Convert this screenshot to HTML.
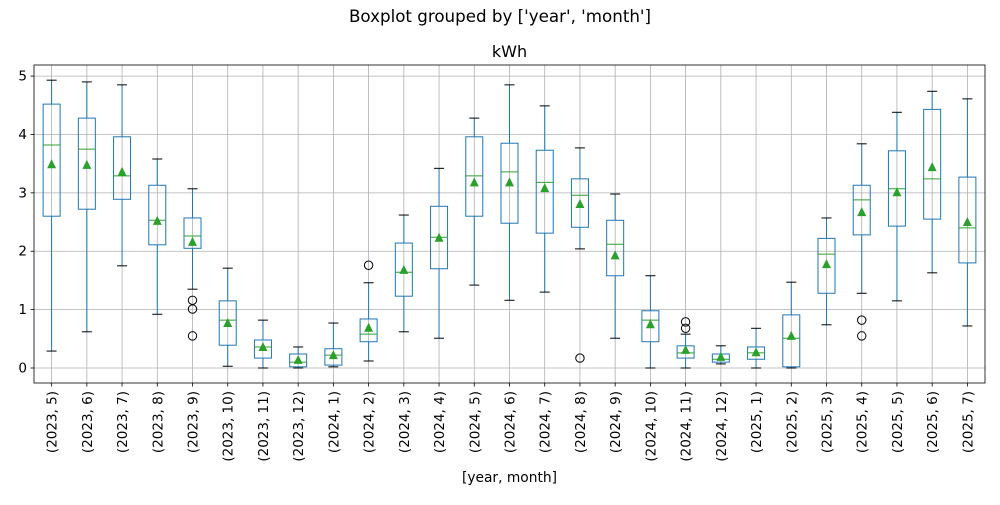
<!DOCTYPE html>
<html><head><meta charset="utf-8"><style>
body{margin:0;background:#fff;}
svg{font-family:"DejaVu Sans","Liberation Sans",sans-serif;}
</style></head><body>
<svg id="chart" width="1000" height="500" viewBox="0 0 1000 500" xmlns="http://www.w3.org/2000/svg">
<rect width="1000" height="500" fill="#fff"/>
<text x="500" y="22" font-size="16.7" text-anchor="middle">Boxplot grouped by ['year', 'month']</text>
<text x="509.5" y="57" font-size="16" text-anchor="middle">kWh</text>
<text x="509.5" y="482" font-size="13.8" text-anchor="middle">[year, month]</text>
<g id="grid"></g><g id="marks"></g><g id="axes"></g>
</svg>
<script>
const categories=["(2023, 5)","(2023, 6)","(2023, 7)","(2023, 8)","(2023, 9)","(2023, 10)","(2023, 11)","(2023, 12)","(2024, 1)","(2024, 2)","(2024, 3)","(2024, 4)","(2024, 5)","(2024, 6)","(2024, 7)","(2024, 8)","(2024, 9)","(2024, 10)","(2024, 11)","(2024, 12)","(2025, 1)","(2025, 2)","(2025, 3)","(2025, 4)","(2025, 5)","(2025, 6)","(2025, 7)"];
const whiskerLow=[0.29,0.62,1.75,0.92,1.35,0.03,0,0,0.02,0.12,0.62,0.51,1.42,1.16,1.30,2.04,0.51,0,0,0.07,0,0,0.74,1.28,1.15,1.63,0.72];
const q1=[2.60,2.72,2.89,2.11,2.05,0.39,0.17,0.02,0.05,0.45,1.23,1.70,2.60,2.48,2.31,2.41,1.58,0.45,0.17,0.10,0.15,0.02,1.28,2.28,2.43,2.55,1.80];
const medians=[3.82,3.75,3.29,2.53,2.26,0.82,0.36,0.10,0.22,0.58,1.64,2.24,3.29,3.36,3.18,2.96,2.12,0.82,0.26,0.15,0.26,0.51,1.95,2.88,3.07,3.24,2.40];
const q3=[4.52,4.28,3.96,3.13,2.57,1.15,0.48,0.24,0.33,0.84,2.14,2.77,3.96,3.85,3.73,3.24,2.53,0.98,0.38,0.24,0.36,0.91,2.22,3.13,3.72,4.43,3.27];
const whiskerHigh=[4.93,4.90,4.85,3.58,3.07,1.71,0.82,0.36,0.77,1.46,2.62,3.42,4.28,4.85,4.49,3.77,2.98,1.58,0.58,0.38,0.68,1.47,2.57,3.84,4.38,4.74,4.61];
const means=[3.49,3.48,3.36,2.52,2.16,0.77,0.36,0.14,0.22,0.69,1.68,2.23,3.18,3.18,3.08,2.81,1.93,0.75,0.31,0.19,0.27,0.55,1.78,2.67,3.01,3.44,2.50];
const outliers=[[],[],[],[],[1.16,1.01,0.55],[],[],[],[],[1.76],[],[],[],[],[],[0.17],[],[],[0.79,0.68],[],[],[],[],[0.82,0.55],[],[],[]];
const yTicks=[0,1,2,3,4,5];

const L=34,R=985,T=65,B=383,ymin=-0.257,ymax=5.19;
const n=categories.length;
const xs=i=>L+(i+1-0.5)/n*(R-L);
const ys=v=>B-(v-ymin)/(ymax-ymin)*(B-T);
const NS="http://www.w3.org/2000/svg";
function mk(tag,attrs,parent){const e=document.createElementNS(NS,tag);for(const k in attrs)e.setAttribute(k,attrs[k]);parent.appendChild(e);return e;}
const grid=document.getElementById('grid'),marks=document.getElementById('marks'),axes=document.getElementById('axes');
yTicks.forEach(t=>{
  const g=mk('line',{x1:L,x2:R,y1:ys(t),y2:ys(t),stroke:'#b0b0b0','stroke-width':0.8},grid);
  
  
  mk('line',{x1:L-3.5,x2:L,y1:ys(t),y2:ys(t),stroke:'#000','stroke-width':0.8},axes);
  const tx=mk('text',{x:L-7,y:ys(t)+4.5,'font-size':13.5,'text-anchor':'end'},axes);
  tx.textContent=t;
  
  
});
categories.forEach((c,i)=>{
  const x=xs(i),hw=8.5,cw=5;
  const g=mk('line',{x1:x,x2:x,y1:T,y2:B,stroke:'#b0b0b0','stroke-width':0.8},grid);
  
  
  mk('line',{x1:x,x2:x,y1:B,y2:B+3.5,stroke:'#000','stroke-width':0.8},axes);
  const tx=mk('text',{x:0,y:0,'font-size':13.5,'text-anchor':'end',transform:`translate(${x+5},${B+8}) rotate(-90)`},axes);
  tx.textContent=c;
  
  
  const grp=mk('g',{},marks);
  
  
  const s={stroke:'#1f77b4','stroke-width':1,fill:'none'};
  mk('line',Object.assign({x1:x,x2:x,y1:ys(q1[i]),y2:ys(whiskerLow[i])},s),grp);
  mk('line',Object.assign({x1:x,x2:x,y1:ys(q3[i]),y2:ys(whiskerHigh[i])},s),grp);
  mk('line',{x1:x-cw,x2:x+cw,y1:ys(whiskerLow[i]),y2:ys(whiskerLow[i]),stroke:'#000','stroke-width':1},grp);
  mk('line',{x1:x-cw,x2:x+cw,y1:ys(whiskerHigh[i]),y2:ys(whiskerHigh[i]),stroke:'#000','stroke-width':1},grp);
  mk('rect',Object.assign({x:x-hw,y:ys(q3[i]),width:2*hw,height:ys(q1[i])-ys(q3[i])},s),grp);
  mk('line',{x1:x-hw,x2:x+hw,y1:ys(medians[i]),y2:ys(medians[i]),stroke:'#2ca02c','stroke-width':1},grp);
  const my=ys(means[i]);
  mk('polygon',{points:`${x},${my-5} ${x-4.5},${my+4} ${x+4.5},${my+4}`,fill:'#2ca02c'},grp);
  outliers[i].forEach(o=>{mk('circle',{cx:x,cy:ys(o),r:4.2,fill:'none',stroke:'#000','stroke-width':1},grp);});
});
const fr=mk('rect',{x:L,y:T,width:R-L,height:B-T,fill:'none',stroke:'#000','stroke-width':0.8},axes);


</script>
</body></html>
